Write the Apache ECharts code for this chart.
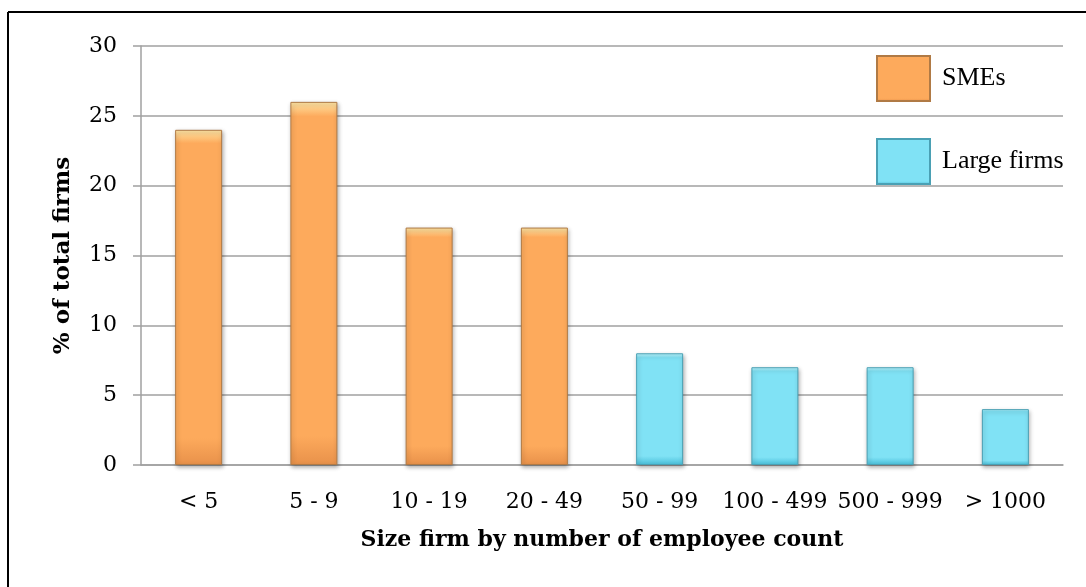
<!DOCTYPE html>
<html>
<head>
<meta charset="utf-8">
<script src="https://cdn.jsdelivr.net/npm/echarts@6/dist/echarts.min.js"></script>
<style>
  html, body { margin: 0; padding: 0; background: #ffffff; }
  #chart { width: 1086px; height: 587px; }
</style>
</head>
<body>
<div id="chart"></div>
<script>
// Firm size classes (employee count)
const categories = ['< 5', '5 - 9', '10 - 19', '20 - 49', '50 - 99', '100 - 499', '500 - 999', '> 1000'];
// Share of total firms, %
const smeValues = [24, 26, 17, 17, null, null, null, null];
const largeValues = [null, null, null, null, 8, 7, 7, 4];
const yTicks = { min: 0, max: 30, interval: 5 };

const serif = 'DejaVu Serif';

function barFill(top, mid, bottom) {
  return new echarts.graphic.LinearGradient(0, 0, 0, 1, [
    { offset: 0, color: top },
    { offset: 0.04, color: mid },
    { offset: 0.92, color: mid },
    { offset: 1, color: bottom }
  ]);
}

const chart = echarts.init(document.getElementById('chart'), null, { renderer: 'canvas' });

chart.setOption({
  animation: false,
  backgroundColor: '#ffffff',
  grid: { left: 141, right: 23, top: 46, bottom: 122, containLabel: false },
  legend: {
    orient: 'vertical',
    left: 871,
    top: 50,
    itemWidth: 53,
    itemHeight: 45,
    itemGap: 36,
    icon: 'rect',
    textStyle: { fontFamily: 'Liberation Serif', fontSize: 26, color: '#000000', padding: [0, 0, 0, 7] },
    data: ['SMEs', 'Large firms']
  },
  xAxis: {
    type: 'category',
    data: categories,
    axisLine: { show: true, lineStyle: { color: '#a0a0a0', width: 1.5 } },
    axisTick: { show: false },
    axisLabel: { fontFamily: serif, fontSize: 22, color: '#000000', margin: 26, interval: 0 },
    name: 'Size firm by number of employee count',
    nameLocation: 'middle',
    nameGap: 64,
    nameTextStyle: { fontFamily: serif, fontSize: 22, fontWeight: 'bold', color: '#000000' }
  },
  yAxis: {
    type: 'value',
    min: yTicks.min,
    max: yTicks.max,
    interval: yTicks.interval,
    axisLine: { show: true, lineStyle: { color: '#a0a0a0', width: 1.5 } },
    axisTick: { show: true, length: 8, lineStyle: { color: '#a0a0a0', width: 1.5 } },
    splitLine: { show: true, lineStyle: { color: '#a0a0a0', width: 1.5 } },
    axisLabel: { fontFamily: serif, fontSize: 22, color: '#000000', margin: 24 },
    name: '% of total firms',
    nameLocation: 'middle',
    nameGap: 66,
    nameTextStyle: { fontFamily: serif, fontSize: 23, fontWeight: 'bold', color: '#000000' }
  },
  series: [
    {
      name: 'SMEs',
      type: 'bar',
      stack: 'size',
      barWidth: 47,
      data: smeValues,
      itemStyle: {
        color: barFill('#ffe7a6', '#fdaa5c', '#e8914a'),
        borderColor: '#b07a45',
        borderWidth: 1,
        shadowColor: 'rgba(0,0,0,0.3)',
        shadowBlur: 4,
        shadowOffsetX: 1,
        shadowOffsetY: 2
      }
    },
    {
      name: 'Large firms',
      type: 'bar',
      stack: 'size',
      barWidth: 47,
      data: largeValues,
      itemStyle: {
        color: barFill('#bff6fe', '#80e2f5', '#48bed9'),
        borderColor: '#4aa0b4',
        borderWidth: 1,
        shadowColor: 'rgba(0,0,0,0.3)',
        shadowBlur: 4,
        shadowOffsetX: 1,
        shadowOffsetY: 2
      }
    }
  ],
  graphic: [
    { type: 'line', shape: { x1: 8, y1: 12, x2: 1086, y2: 12 }, style: { stroke: '#000000', lineWidth: 2 } },
    { type: 'line', shape: { x1: 8, y1: 12, x2: 8, y2: 587 }, style: { stroke: '#000000', lineWidth: 2 } }
  ]
});
</script>
</body>
</html>
